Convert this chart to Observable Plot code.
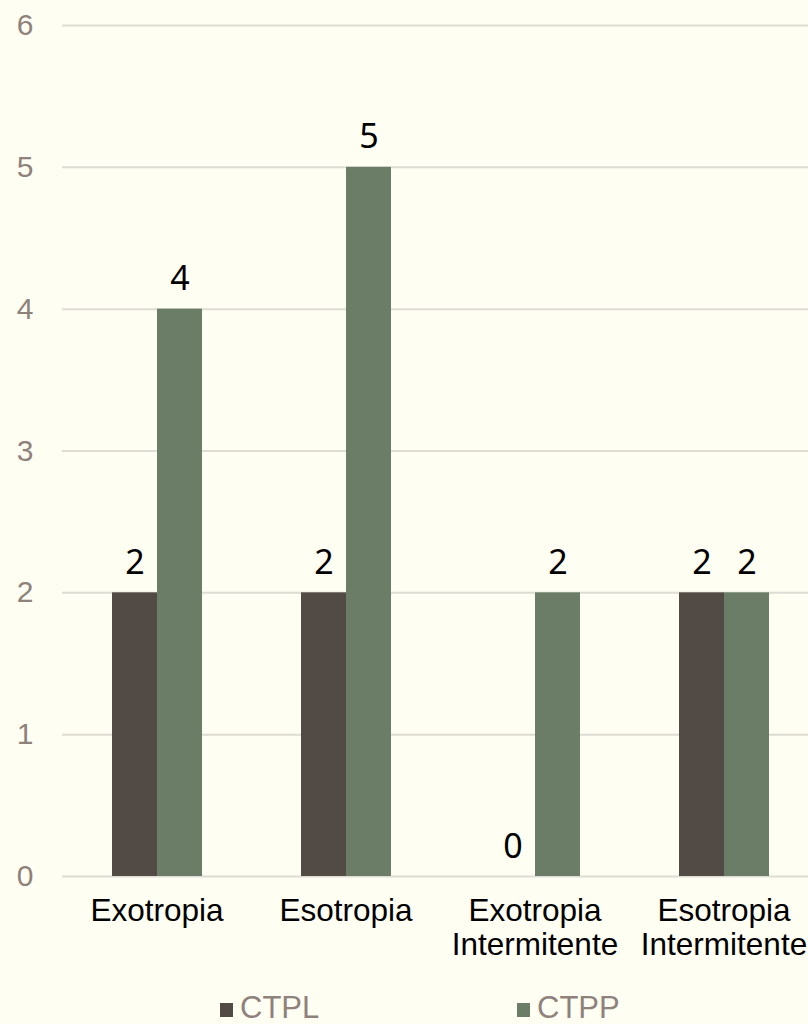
<!DOCTYPE html>
<html>
<head>
<meta charset="utf-8">
<script src="https://cdn.jsdelivr.net/npm/d3@7"></script>
<script src="https://cdn.jsdelivr.net/npm/@observablehq/plot@0.6"></script>
<style>
  html, body { margin: 0; padding: 0; background: #FFFEF2; }
  #wrap { position: relative; width: 808px; height: 1024px; overflow: hidden; background: #FFFEF2; }
  #chart svg { display: block; }
  .leg { position: absolute; top: 992px; display: flex; align-items: center; font-family: "Liberation Sans", Arial, sans-serif; font-size: 31px; line-height: 31px; color: #8F827C; }
  .leg .sw { width: 13px; height: 14px; margin-right: 7px; margin-top: 5px; }
</style>
</head>
<body>
<div id="wrap">
  <div id="chart"></div>
  <div class="leg" style="left:220px"><span class="sw" style="background:#524A44"></span>CTPL</div>
  <div class="leg" style="left:517px"><span class="sw" style="background:#6C7D67"></span>CTPP</div>
</div>
<script>
const categories = ["Exotropia", "Esotropia", "Exotropia Intermitente", "Esotropia Intermitente"];
const series = ["CTPL", "CTPP"];
const ctpl = [2, 2, 0, 2];
const ctpp = [4, 5, 2, 2];
const yTicks = [0, 1, 2, 3, 4, 5, 6];
const colors = ["#524A44", "#6C7D67"];

const data = [];
categories.forEach((c, i) => {
  data.push({category: c, series: "CTPL", value: ctpl[i]});
  data.push({category: c, series: "CTPP", value: ctpp[i]});
});

const chart = Plot.plot({
  width: 808,
  height: 980,
  marginLeft: 62,
  marginRight: 0,
  marginTop: 25,
  marginBottom: 104,
  style: {background: "#FFFEF2", overflow: "visible"},
  fx: {domain: categories, range: [62, 818], padding: 0, label: null},
  x: {domain: series, paddingInner: 0, paddingOuter: 1.1, axis: null},
  y: {domain: [0, 6], label: null},
  color: {domain: series, range: colors},
  marks: [
    Plot.ruleY(yTicks, {y: d => d, stroke: "#DEDCD4", strokeWidth: 2}),
    Plot.barY(data, {fx: "category", x: "series", y: "value", fill: "series"}),
    Plot.text(data, {fx: "category", x: "series", y: "value", text: d => String(d.value),
      lineAnchor: "bottom", dy: -19, fontSize: 34, fill: "#000",
      fontFamily: "'Noto Sans', 'Open Sans', sans-serif"}),
    Plot.axisY({ticks: yTicks, tickFormat: d => String(d), tickSize: 0, tickPadding: 29, fontSize: 30, fill: "#8F827C",
      fontFamily: "'Liberation Sans', Arial, sans-serif", label: null}),
    Plot.axisFx({anchor: "bottom", tickSize: 0, tickPadding: 21, fontSize: 31.5, fill: "#000",
      lineHeight: 1.06, fontFamily: "'Liberation Sans', Arial, sans-serif",
      tickFormat: d => d.replace(" ", "\n"), label: null})
  ]
});
document.getElementById("chart").appendChild(chart);
</script>
</body>
</html>
